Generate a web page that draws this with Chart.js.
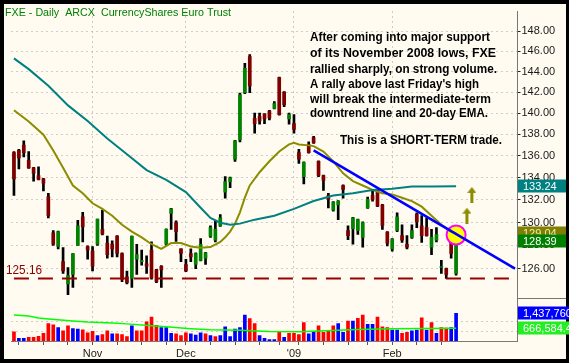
<!DOCTYPE html>
<html>
<head>
<meta charset="utf-8">
<script src="https://cdn.jsdelivr.net/npm/chart.js@4.4.0/dist/chart.umd.min.js"></script>
<style>
  html, body { margin: 0; padding: 0; background: #000; }
  #wrap { width: 569px; height: 363px; }
</style>
</head>
<body>
<div id="wrap"><canvas id="fxe" width="569" height="363"></canvas></div>
<script>
(function () {
    "use strict";

    // daily candles, Oct 10 2008 .. Feb 20 2009
    const opens = [
        136.3, 136.5, 137.0, 135.6, 134.9, 134.2, 133.9, 132.3, 129.1, 127.9,
        126.6, 124.7, 125.5, 128.0, 130.5, 127.9, 127.5, 128.1, 129.4, 128.2,
        128.1, 128.8, 127.3, 125.3, 125.16, 126.8, 126.6, 126.4, 127.6, 125.9,
        126.2, 128.1, 130.8, 130.0, 127.7, 126.35, 127.3, 126.35, 126.7, 126.9,
        128.8, 128.45, 129.7, 132.7, 133.65, 135.7, 137.5, 141.95, 145.47, 139.5,
        139.7, 139.9, 140.2, 140.45, 143.4, 142.0, 139.45, 139.0, 136.3, 134.1,
        137.05, 137.7, 135.5, 134.2, 132.4, 131.1, 131.55, 133.3, 129.3, 129.45,
        129.3, 128.7, 131.3, 132.4, 132.85, 131.55, 129.15, 127.7, 129.3, 128.85,
        128.1, 128.7, 130.75, 129.7, 129.55, 127.85, 128.45, 126.1, 126.0, 128.35,
        125.6
    ];
    const highs = [
        136.4, 136.6, 137.4, 136.4, 134.95, 135.0, 133.95, 132.6, 129.3, 129.25,
        127.8, 126.1, 127.3, 130.2, 130.9, 127.95, 127.9, 130.3, 131.1, 128.8,
        128.4, 128.85, 127.35, 125.8, 128.8, 128.1, 127.6, 127.1, 128.3, 125.95,
        126.25, 129.45, 131.25, 130.15, 127.7, 126.8, 127.7, 127.35, 128.6, 127.4,
        129.7, 130.15, 130.7, 134.1, 134.05, 137.45, 141.9, 144.8, 145.65, 140.0,
        140.0, 139.95, 140.25, 141.1, 143.45, 142.05, 140.0, 139.85, 136.6, 135.45,
        137.3, 137.8, 135.55, 134.25, 132.6, 131.85, 131.95, 133.35, 129.7, 130.45,
        130.3, 130.05, 132.25, 132.85, 132.95, 131.6, 129.2, 128.6, 130.85, 129.8,
        128.85, 129.8, 130.85, 130.6, 130.4, 129.4, 129.55, 126.7, 126.05, 128.4,
        129.55
    ];
    const lows = [
        132.4, 134.8, 135.9, 134.85, 133.7, 133.8, 132.8, 130.4, 128.0, 127.7,
        125.6, 123.8, 124.4, 128.0, 128.3, 126.8, 125.8, 128.0, 128.9, 126.9,
        127.0, 127.0, 124.9, 124.7, 124.4, 125.5, 126.3, 125.6, 125.1, 124.8,
        124.4, 128.0, 129.4, 128.35, 126.6, 125.75, 126.6, 126.0, 126.65, 126.35,
        128.7, 128.3, 129.65, 132.15, 133.1, 135.5, 137.3, 141.85, 141.95, 138.1,
        138.95, 139.0, 139.35, 140.4, 139.8, 140.6, 138.95, 138.1, 135.3, 133.45,
        136.25, 137.15, 134.1, 132.85, 131.3, 131.0, 130.25, 132.15, 128.5, 128.1,
        128.95, 127.85, 131.25, 131.9, 131.4, 129.4, 127.95, 127.5, 129.2, 128.25,
        127.7, 128.6, 129.55, 128.25, 128.8, 127.2, 128.3, 125.6, 125.16, 126.9,
        125.45
    ];
    const closes = [
        133.9, 135.8, 136.3, 134.9, 134.4, 133.85, 133.5, 130.6, 128.1, 129.2,
        125.8, 125.4, 127.3, 129.7, 129.6, 127.6, 126.2, 130.3, 129.0, 127.2,
        127.7, 127.3, 125.1, 124.8, 128.8, 127.2, 126.7, 126.2, 125.2, 124.9,
        125.9, 129.4, 131.2, 129.2, 127.3, 125.8, 127.0, 127.3, 128.1, 127.35,
        129.55, 129.4, 130.4, 133.65, 134.0, 137.4, 141.75, 144.3, 142.6, 139.0,
        139.25, 139.45, 139.55, 140.9, 139.85, 140.8, 139.85, 138.45, 135.7, 135.4,
        136.3, 137.2, 134.2, 133.75, 132.05, 131.8, 131.9, 132.95, 128.85, 130.4,
        130.25, 130.0, 132.05, 132.05, 131.45, 129.75, 128.2, 128.55, 130.5, 128.45,
        127.85, 129.3, 130.05, 128.85, 128.85, 128.7, 128.95, 126.15, 125.5, 127.3,
        128.39
    ];
    const volumes = [
        480000, 140000, 140000, 190000, 190000, 240000, 400000, 900000, 840000, 700000,
        530000, 790000, 650000, 620000, 580000, 420000, 500000, 280000, 330000, 530000,
        370000, 370000, 330000, 230000, 790000, 530000, 530000, 990000, 1240000, 820000,
        700000, 700000, 400000, 370000, 280000, 420000, 370000, 310000, 420000, 370000,
        280000, 230000, 280000, 740000, 230000, 620000, 700000, 1350000, 1160000, 900000,
        280000, 140000, 80000, 80000, 450000, 190000, 400000, 400000, 330000, 960000,
        370000, 500000, 790000, 450000, 500000, 790000, 900000, 450000, 1040000, 1040000,
        1180000, 1350000, 870000, 870000, 1240000, 740000, 700000, 570000, 570000, 400000,
        450000, 530000, 570000, 1210000, 570000, 960000, 400000, 700000, 670000, 700000,
        1437760
    ];
    // 1 = blue volume bar, 0 = red volume bar
    const volUp = [
        0, 1, 1, 0, 0, 0, 0, 0, 0, 1,
        0, 0, 1, 1, 0, 0, 0, 1, 0, 0,
        1, 0, 0, 0, 1, 0, 0, 0, 0, 0,
        1, 1, 1, 0, 0, 0, 1, 1, 1, 0,
        1, 0, 1, 1, 1, 1, 1, 1, 0, 0,
        1, 1, 1, 1, 0, 1, 0, 0, 0, 0,
        1, 1, 0, 0, 0, 0, 1, 1, 0, 1,
        0, 0, 1, 1, 0, 0, 0, 1, 1, 0,
        0, 1, 1, 0, 1, 0, 1, 0, 0, 1,
        1
    ];

    // moving averages read at sampled bars: [bar index, value]
    const ema20Pts = [
        [0, 140.27], [3, 139.2], [6, 137.97], [8, 136.5], [10, 134.9], [12, 133.3],
        [14, 132.6], [16, 131.7], [18, 131.2], [20, 130.6], [22, 129.8], [24, 129.2],
        [26, 128.7], [28, 128.1], [30, 127.7], [32, 128.2], [34, 128.2], [36, 127.9],
        [38, 127.8], [40, 127.85], [42, 128.3], [43, 128.7], [44, 129.2], [45, 129.9],
        [46, 130.9], [47, 132.2], [48, 133.3], [50, 134.5], [52, 135.5], [54, 136.4],
        [56, 137.06], [57, 137.2], [58, 137.06], [60, 136.97], [61, 136.9], [63, 136.4],
        [65, 135.5], [67, 134.4], [69, 133.7], [71, 133.3], [73, 132.9], [75, 132.6],
        [77, 132.5], [79, 132.2], [81, 131.9], [83, 131.4], [85, 130.6], [87, 129.8],
        [89, 129.2], [90, 129.04]
    ];
    const ema50Pts = [
        [0, 145.28], [3, 144.23], [7, 142.61], [11, 140.73], [15, 139.25], [19, 137.6],
        [23, 136.15], [27, 134.7], [31, 133.8], [35, 132.7], [38, 131.3], [40, 130.4],
        [42, 129.98], [44, 129.8], [46, 129.9], [49, 130.25], [53, 130.6], [57, 131.2],
        [61, 131.9], [65, 132.4], [69, 132.6], [73, 132.9], [77, 133.0], [81, 133.2],
        [85, 133.2], [90, 133.24]
    ];
    const volAvgPts = [
        [0, 1350000], [3, 1300000], [5, 1190000], [7, 1140000], [12, 1040000],
        [15, 990000], [20, 940000], [23, 890000], [28, 790000], [31, 740000],
        [36, 640000], [40, 580000], [46, 560000], [52, 500000], [58, 480000],
        [62, 520000], [70, 600000], [77, 640000], [90, 666584]
    ];
    const trendPts = [[61, 136.5], [102, 126.0]];
    const supportLevel = 125.16;
    const markerPt = [90, 128.9];
    const arrowPts = [[92.2, 130.6], [93.2, 132.45]];

    const priceTicks = [126, 128, 130, 132, 134, 136, 138, 140, 142, 144, 146, 148];
    const volTicks = [500000, 1000000];
    const monthTicks = { 16: 'Nov', 35: 'Dec', 57: "'09", 77: 'Feb' };
    const weekTicks = [1, 6, 11, 16, 21, 26, 31, 35, 40, 45, 50, 54, 58, 63, 68, 72, 77, 82, 87];
    const slots = 103;

    const title = 'FXE - Daily  ARCX  CurrencyShares Euro Trust';
    const note = [
        'After coming into major support',
        'of its November 2008 lows, FXE',
        'rallied sharply, on strong volume.',
        "A rally above last Friday's high",
        'will break the intermediate-term',
        'downtrend line and 20-day EMA.'
    ];
    const noteTail = 'This is a SHORT-TERM trade.';

    const FONT = '"Liberation Sans", Arial, sans-serif';
    const UP = '#008400', DOWN = '#800000';

    // "utils" helpers
    const pad = a => a.concat(new Array(slots - a.length).fill(null));
    function fromPts(pts) {
        const out = new Array(slots).fill(null);
        pts.forEach(([i, v]) => { out[i] = v; });
        return out;
    }

    const labels = Array.from({ length: slots }, (_, i) => String(i));
    const wickData = pad(highs.map((h, i) => [lows[i], h]));
    const bodyData = pad(opens.map((o, i) => [o, closes[i]]));
    const bodyColors = opens.map((o, i) => closes[i] >= o ? UP : DOWN);
    const volColors = volUp.map(u => u ? '#0000ff' : '#ff0000');

    // olive arrow glyph used as point style
    const arrow = document.createElement('canvas');
    arrow.width = 9; arrow.height = 16;
    (function () {
        const g = arrow.getContext('2d');
        g.fillStyle = '#8c8c00';
        g.beginPath(); g.moveTo(0, 6); g.lineTo(4.5, 0); g.lineTo(9, 6); g.closePath(); g.fill();
        g.fillRect(3, 6, 3, 10);
    })();

    function tag(c, x, y, w, bg, fg, text) {
        c.fillStyle = bg;
        c.fillRect(x, Math.round(y) - 6.5, w, 13);
        c.fillStyle = fg;
        c.textBaseline = 'middle';
        c.fillText(text, x + 5, Math.round(y) + 0.5);
    }

    const chrome = {
        id: 'chrome',
        beforeDraw(chart) {
            const c = chart.ctx;
            c.save();
            c.fillStyle = '#fffbf0';
            c.fillRect(0, 0, chart.width, chart.height);
            c.restore();
        },
        afterDraw(chart) {
            const c = chart.ctx, a = chart.chartArea;
            const y = chart.scales.y, yv = chart.scales.yv;
            c.save();

            // separator between panes, axis column only
            c.strokeStyle = '#777';
            c.lineWidth = 1;
            c.beginPath();
            c.moveTo(a.right, Math.round(yv.top) + 0.5);
            c.lineTo(chart.width, Math.round(yv.top) + 0.5);
            c.stroke();

            c.textBaseline = 'middle';
            c.fillStyle = '#008000';
            c.font = '11px ' + FONT;
            c.fillText(title, 5, 12.5, 226);

            c.fillStyle = '#000';
            c.font = 'bold 13px ' + FONT;
            const rows = [37.5, 53.3, 69, 84.3, 99, 113];
            const widths = [180, 186, 187, 169, 181, 178];
            note.forEach((t, i) => c.fillText(t, 310, rows[i], widths[i]));
            c.fillText(noteTail, 340, 140, 162);

            c.fillStyle = '#8b0000';
            c.font = '13px ' + FONT;
            c.fillText(supportLevel.toFixed(2), 6, 270.5, 36);

            // black frame
            c.fillStyle = '#000';
            c.fillRect(0, 0, chart.width, 4);
            c.fillRect(0, 0, 4, chart.height);
            c.fillRect(566, 0, 3, chart.height);
            c.fillRect(0, 359, chart.width, 4);

            // last value tags
            c.font = '11px ' + FONT;
            const x0 = a.right + 0.5;
            tag(c, x0, y.getPixelForValue(129.04), 566 - x0, '#808000', '#ececb4', '129.04');
            tag(c, x0, y.getPixelForValue(closes[closes.length - 1]), 566 - x0, '#008000', '#fff', closes[closes.length - 1].toFixed(2));
            tag(c, x0, y.getPixelForValue(133.24), 566 - x0, '#008080', '#fff', '133.24');
            tag(c, x0, yv.getPixelForValue(volumes[volumes.length - 1]), 569 - x0, '#0000ff', '#fff', '1,437,760');
            tag(c, x0, yv.getPixelForValue(666584), 569 - x0, '#22ee22', '#fff', '666,584.4');

            c.restore();
        }
    };

    Chart.defaults.font.family = FONT;

    new Chart(document.getElementById('fxe'), {
        type: 'bar',
        data: {
            labels: labels,
            datasets: [
                {
                    data: wickData,
                    backgroundColor: '#000',
                    barThickness: 2,
                    grouped: false,
                    order: 6,
                    yAxisID: 'y'
                },
                {
                    data: bodyData,
                    backgroundColor: bodyColors,
                    barThickness: 3,
                    minBarLength: 1,
                    grouped: false,
                    order: 5,
                    yAxisID: 'y'
                },
                {
                    data: pad(volumes),
                    backgroundColor: volColors,
                    barThickness: 3,
                    grouped: false,
                    order: 5,
                    yAxisID: 'yv'
                },
                {
                    type: 'line',
                    data: fromPts([markerPt]),
                    showLine: false,
                    pointRadius: 9.5,
                    pointBackgroundColor: '#ffff00',
                    pointBorderColor: '#ff00ff',
                    pointBorderWidth: 2,
                    order: 4,
                    yAxisID: 'y'
                },
                {
                    type: 'line',
                    data: new Array(slots).fill(supportLevel),
                    borderColor: '#990000',
                    borderWidth: 2,
                    borderDash: [15, 9],
                    pointRadius: 0,
                    order: 3,
                    yAxisID: 'y'
                },
                {
                    type: 'line',
                    data: fromPts(ema50Pts),
                    borderColor: '#008080',
                    borderWidth: 2,
                    pointRadius: 0,
                    spanGaps: true,
                    order: 2,
                    yAxisID: 'y'
                },
                {
                    type: 'line',
                    data: fromPts(ema20Pts),
                    borderColor: '#8c8c00',
                    borderWidth: 2,
                    pointRadius: 0,
                    spanGaps: true,
                    order: 2,
                    yAxisID: 'y'
                },
                {
                    type: 'line',
                    data: fromPts(trendPts),
                    borderColor: '#0000ff',
                    borderWidth: 2.5,
                    pointRadius: 0,
                    spanGaps: true,
                    order: 1,
                    yAxisID: 'y'
                },
                {
                    type: 'line',
                    data: fromPts(volAvgPts),
                    borderColor: '#00ff00',
                    borderWidth: 1.5,
                    pointRadius: 0,
                    spanGaps: true,
                    order: 1,
                    yAxisID: 'yv'
                },
                {
                    type: 'line',
                    data: arrowPts.map(([x, v]) => ({ x: x, y: v })),
                    showLine: false,
                    pointStyle: arrow,
                    pointRadius: 8,
                    order: 0,
                    xAxisID: 'xa',
                    yAxisID: 'y'
                }
            ]
        },
        options: {
            responsive: false,
            animation: false,
            devicePixelRatio: 1,
            layout: { padding: { left: 2.5, top: 4, right: 0, bottom: 0 } },
            plugins: {
                legend: { display: false },
                tooltip: { enabled: false }
            },
            scales: {
                x: {
                    offset: true,
                    grid: {
                        offset: false,
                        color: c => monthTicks[c.index] ? '#9a9a9a' : 'rgba(0,0,0,0)',
                        tickColor: c => weekTicks.includes(c.index) ? '#555' : 'rgba(0,0,0,0)',
                        tickLength: 4,
                        lineWidth: 1
                    },
                    border: { display: true, color: '#7a7a7a', width: 1, dash: [1, 4] },
                    ticks: {
                        autoSkip: false,
                        maxRotation: 0,
                        minRotation: 0,
                        padding: 2,
                        color: '#222',
                        font: { size: 11 },
                        callback: (v, i) => monthTicks[i] || ''
                    },
                    afterFit: s => { s.height = 22; }
                },
                xa: {
                    type: 'linear',
                    display: false,
                    offset: false,
                    grid: { offset: false },
                    min: -0.5,
                    max: slots - 0.5
                },
                y: {
                    type: 'logarithmic',
                    position: 'right',
                    stack: 'panes',
                    stackWeight: 293,
                    min: 123.52,
                    max: 149.97,
                    afterBuildTicks: s => { s.ticks = priceTicks.map(v => ({ value: v })); },
                    grid: { color: '#a0a0a0', lineWidth: 1, tickColor: '#222', tickLength: 3 },
                    border: { display: true, color: '#777', dash: [1, 4] },
                    ticks: {
                        autoSkip: false,
                        padding: 1,
                        color: '#1a1a1a',
                        font: { size: 11 },
                        callback: v => Number(v).toFixed(2)
                    },
                    afterFit: s => { s.width = 51.5; }
                },
                yv: {
                    type: 'linear',
                    position: 'right',
                    stack: 'panes',
                    stackWeight: 44,
                    min: 0,
                    max: 2236000,
                    afterBuildTicks: s => { s.ticks = volTicks.map(v => ({ value: v })); },
                    grid: { color: '#a0a0a0', drawTicks: false },
                    border: { display: true, color: '#777', dash: [1, 4] },
                    ticks: { display: false, autoSkip: false },
                    afterFit: s => { s.width = 51.5; }
                }
            }
        },
        plugins: [chrome]
    });
})();
</script>
</body>
</html>
